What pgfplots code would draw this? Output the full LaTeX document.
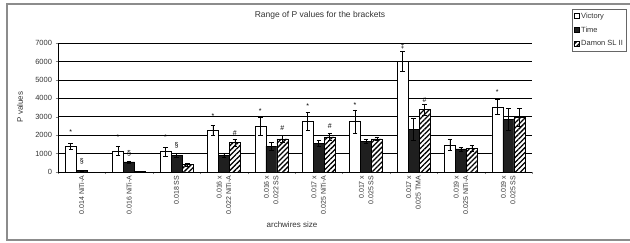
\documentclass[border=0pt]{standalone}
\usepackage{pgfplots}
\pgfplotsset{compat=1.18}
\usepackage{pgfplotstable}
\usepackage{fontspec}
\setmainfont{Liberation Sans}
\usetikzlibrary{patterns,patterns.meta}

\pgfplotstableread{
x y e
0 1400 150
1 1150 250
2 1100 250
3 2250 280
4 2480 500
5 2750 480
6 2750 620
7 6000 550
8 1460 300
9 3530 400
}\victory
\pgfplotstableread{
x y e
0 80 20
1 550 60
2 900 120
3 900 120
4 1400 200
5 1570 150
6 1680 100
7 2300 600
8 1250 100
9 2840 600
}\timeb
\pgfplotstableread{
x y e
0 0 0
1 50 0
2 400 80
3 1600 200
4 1800 200
5 1910 200
6 1800 100
7 3400 300
8 1300 150
9 2980 480
}\damon

\begin{document}
\begin{tikzpicture}[x=1pt,y=1pt]
\begin{axis}[
  at={(58pt,70pt)}, anchor=south west,
  scale only axis, width=474pt, height=129pt,
  ybar=0pt, bar width=11pt,
  xmin=-0.5, xmax=9.5, ymin=0, ymax=7000,
  axis lines=left, axis line style={-, black, line width=0.5pt},
  ytick={0,1000,...,7000},
  ymajorgrids, grid style={black, line width=0.5pt},
  yticklabel style={font=\fontsize{7.5}{8.5}\selectfont, text=black!80},
  /pgf/number format/assume math mode=true,
  /pgf/number format/1000 sep={},
  tick align=outside, major tick length=2.5pt,
  xtick={0,...,9},
  major x tick style={draw=none},
  minor xtick={-0.5,0.5,...,9.5},
  minor tick length=2pt,
  xticklabels={{0.014 NiTi-A},{0.016 NiTi-A},{0.018 SS},{0.016 x\\0.022 NiTi-A},{0.016 x\\0.022 SS},{0.017 x\\0.025 NiTi-A},{0.017 x\\0.025 SS},{0.017 x\\0.025 TMA},{0.019 x\\0.025 NiTi-A},{0.019 x\\0.025 SS}},
  xticklabel style={rotate=90, anchor=east, align=right, font=\fontsize{7}{9.5}\selectfont, text=black!80, inner sep=1pt},
  legend style={at={(axis description cs:1.0844,1.2636)}, anchor=north west, draw=black!60, font=\fontsize{7.5}{8.5}\selectfont, inner sep=1.5pt, row sep=3pt, cells={anchor=west}, text=black!80},
  legend image code/.code={\draw[#1] (0pt,-2.5pt) rectangle (5pt,2.5pt);},
  error bars/error bar style={black, line width=0.5pt},
  error bars/error mark options={rotate=90, mark size=2.2pt, black, line width=0.5pt},
]
\addplot[draw=black, fill=white, line width=0.5pt, error bars/.cd, y dir=both, y explicit] table[x=x, y=y, y error=e] {\victory};
\addplot[draw=black, fill=black!88, line width=0.5pt, error bars/.cd, y dir=both, y explicit] table[x=x, y=y, y error=e] {\timeb};
\addplot[draw=black, fill=white, postaction={pattern={Lines[angle=45,distance=3.5pt,line width=1.3pt]}, pattern color=black}, line width=0.5pt, error bars/.cd, y dir=both, y explicit] table[x=x, y=y, y error=e] {\damon};
\legend{Victory, Time, Damon SL II}
% significance symbols
\tikzset{sym/.style={font=\fontsize{7}{7}\selectfont, inner sep=0pt}}
\node[sym] at (axis cs:-0.232,2150) {*};
\node[sym] at (axis cs:0,600) {\S};
\node[sym] at (axis cs:0.768,1900) {*};
\node[sym] at (axis cs:1,1030) {\S};
\node[sym] at (axis cs:1.768,1900) {*};
\node[sym] at (axis cs:2,1460) {\S};
\node[sym] at (axis cs:2.768,3030) {*};
\node[sym] at (axis cs:3.232,2130) {\#};
\node[sym] at (axis cs:3.768,3280) {*};
\node[sym] at (axis cs:4.232,2380) {\#};
\node[sym] at (axis cs:4.768,3550) {*};
\node[sym] at (axis cs:5.232,2490) {\#};
\node[sym] at (axis cs:5.768,3630) {*};
\node[sym] at (axis cs:6.768,6800) {\ddag};
\node[sym] at (axis cs:7.232,3900) {\#};
\node[sym] at (axis cs:8.768,4340) {*};
\end{axis}
\node[font=\fontsize{8.5}{9.5}\selectfont, text=black!80] at (320pt,227pt) {Range of P values for the brackets};
\node[font=\fontsize{8}{9}\selectfont, text=black!80, rotate=90] at (20pt,135pt) {P values};
\node[font=\fontsize{8}{9}\selectfont, text=black!80] at (292pt,17pt) {archwires size};
\draw[black!45, line width=1.2pt] (7pt,2pt) rectangle (636pt,238pt);
\pgfresetboundingbox
\useasboundingbox (0,0) rectangle (630pt,242pt);
\end{tikzpicture}
\end{document}
